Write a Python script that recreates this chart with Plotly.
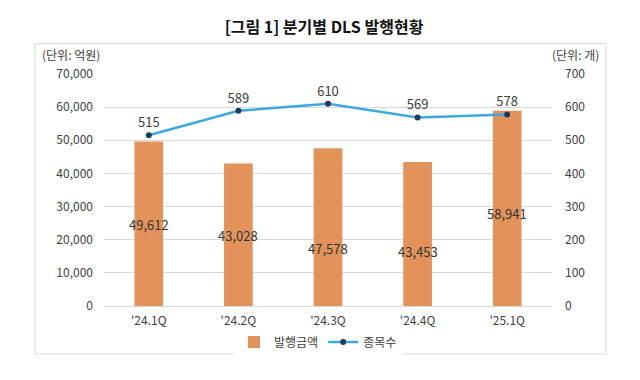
import plotly.graph_objects as go

categories = ["'24.1Q", "'24.2Q", "'24.3Q", "'24.4Q", "'25.1Q"]
amount = [49612, 43028, 47578, 43453, 58941]   # 발행금액 (억원)
count = [515, 589, 610, 569, 578]              # 종목수 (개)
left_ticks = [0, 10000, 20000, 30000, 40000, 50000, 60000, 70000]
right_ticks = [0, 100, 200, 300, 400, 500, 600, 700]

FONT = "Noto Sans CJK KR"
TXT = "#404040"
GRID = "#D9D9D9"

# page body has an 8px margin; figure is sized/offset to compensate
OFF = 8
W, H = 640 - OFF, 380 - OFF
L, R, T, B = 104 - OFF, 88, 73.5 - OFF, 74
PW = W - L - R
PH = H - T - B


def px(xpix):
    return (xpix - 104) / PW


def py(ypix):
    return (306 - ypix) / PH


fig = go.Figure()
fig.add_trace(go.Bar(
    x=categories, y=amount, name="발행금액",
    marker=dict(color="#E3935A", line=dict(width=0)),
    yaxis="y",
))
fig.add_trace(go.Scatter(
    x=categories, y=count, name="종목수", mode="lines+markers+text",
    line=dict(color="#3DA8E0", width=2.5),
    marker=dict(color="#1F3A5A", size=6),
    text=[str(v) for v in count], textposition="top center",
    textfont=dict(size=13, color=TXT, family=FONT),
    yaxis="y2", cliponaxis=False,
))

label_drop = [1, 1, 21, 18, 5]
annotations = [
    dict(x=c, y=v / 2, xref="x", yref="y", text=f"{v:,}", showarrow=False,
         yshift=-d, font=dict(size=13, color="#333333", family=FONT))
    for c, v, d in zip(categories, amount, label_drop)
]
annotations += [
    dict(text="(단위: 억원)", xref="paper", yref="paper", x=px(40),
         y=py(54), xanchor="left", yanchor="middle", showarrow=False,
         font=dict(size=12, color=TXT)),
    dict(text="(단위: 개)", xref="paper", yref="paper", x=px(601),
         y=py(54), xanchor="right", yanchor="middle", showarrow=False,
         font=dict(size=12, color=TXT)),
]

fig.update_layout(
    width=W, height=H,
    margin=dict(l=L, r=R, t=T, b=B, autoexpand=False),
    paper_bgcolor="white", plot_bgcolor="white",
    font=dict(family=FONT, color=TXT, size=12),
    bargap=0.68,
    showlegend=True,
    legend=dict(orientation="h", x=px(318), xanchor="center", y=py(342), yanchor="middle",
                font=dict(size=12, color=TXT), traceorder="normal"),
    title=dict(text="[그림 1] 분기별 DLS 발행현황", x=0.5, xanchor="center",
               y=1 - (27 - OFF) / H, yanchor="middle",
               font=dict(size=16, color="#111111", family=FONT, weight="bold")),
    xaxis=dict(showgrid=False, showline=False, ticks="", tickfont=dict(size=12, color=TXT),
               ticklabelstandoff=6),
    yaxis=dict(range=[0, 70000], tickvals=left_ticks, tickformat=",",
               showgrid=True, gridcolor=GRID, gridwidth=1, zeroline=True, zerolinecolor=GRID,
               zerolinewidth=1, showline=False, ticks="", ticklabelstandoff=10,
               tickfont=dict(size=12, color=TXT)),
    yaxis2=dict(range=[0, 700], tickvals=right_ticks, overlaying="y", side="right",
                showgrid=False, zeroline=False, showline=False, ticks="",
                ticklabelstandoff=12, tickfont=dict(size=12, color=TXT)),
    shapes=[dict(type="rect", xref="paper", yref="paper",
                 x0=px(35), x1=px(606), y0=py(354), y1=py(43),
                 line=dict(color=GRID, width=1), fillcolor="rgba(0,0,0,0)", layer="below")],
    annotations=annotations,
)

fig.write_html("out.html")
